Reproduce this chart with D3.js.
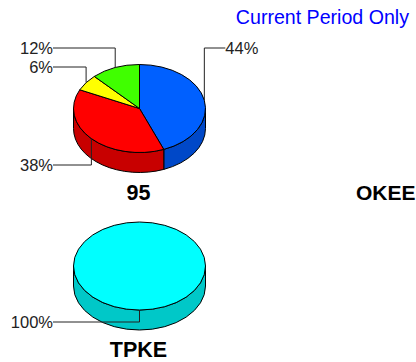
<!DOCTYPE html>
<html>
<head>
<meta charset="utf-8">
<script src="https://d3js.org/d3.v7.min.js"></script>
<style>
body { margin: 0; background: #fff; overflow: hidden; }
svg { display: block; }
text { font-family: "Liberation Sans", Arial, sans-serif; }
</style>
</head>
<body>
<div id="chart"></div>
<script>
// values
var names = ["95", "TPKE"];
var pieValues = [[44, 38, 6, 12], [100]];
var pieLabels = [["44%", "38%", "6%", "12%"], ["100%"]];
var topColors = [["#0060ff", "#ff0000", "#ffff00", "#40ff00"], ["#00ffff"]];
var sideColors = [["#0048c8", "#c80000", "#c8c800", "#30c800"], ["#00c8c8"]];
// y of the horizontal leader run for each label
var leaderY = [[48, 165, 67, 48], [322]];

var width = 416, height = 362;
var rx = 66, ry = 44, depth = 20;
var cx = 139.5;
var centerY = [108.5, 266];
var titleY = [200, 356.5];
var labelRight = 53;

var svg = d3.select("#chart").append("svg")
  .attr("width", width)
  .attr("height", height);

svg.append("text")
  .attr("x", 409)
  .attr("y", 23.5)
  .attr("text-anchor", "end")
  .attr("fill", "#0000ff")
  .style("font-size", "19.6px")
  .text("Current Period Only");

svg.append("text")
  .attr("x", 356)
  .attr("y", 200)
  .style("font-size", "21px")
  .style("font-weight", "bold")
  .text("OKEE");

var pie = d3.pie().sort(null).value(function(d) { return d; });

// point on the rim, angle clockwise from 12 o'clock
function px(a) { return rx * Math.sin(a); }
function py(a) { return -ry * Math.cos(a); }

function topPath(a0, a1) {
  if (a1 - a0 >= 2 * Math.PI - 1e-6) {
    return "M" + (-rx) + ",0A" + rx + "," + ry + " 0 1 1 " + rx + ",0A" + rx + "," + ry + " 0 1 1 " + (-rx) + ",0Z";
  }
  return "M0,0L" + px(a0) + "," + py(a0) +
    "A" + rx + "," + ry + " 0 " + (a1 - a0 > Math.PI ? 1 : 0) + " 1 " + px(a1) + "," + py(a1) + "Z";
}

// only the part of the wall facing the viewer
function sidePath(a0, a1) {
  var s = Math.max(a0, Math.PI / 2), e = Math.min(a1, 3 * Math.PI / 2);
  if (e <= s) return null;
  return "M" + px(s) + "," + py(s) +
    "A" + rx + "," + ry + " 0 0 1 " + px(e) + "," + py(e) +
    "L" + px(e) + "," + (py(e) + depth) +
    "A" + rx + "," + ry + " 0 0 0 " + px(s) + "," + (py(s) + depth) + "Z";
}

names.forEach(function(name, i) {
  var arcs = pie(pieValues[i]);
  var g = svg.append("g").attr("transform", "translate(" + cx + "," + centerY[i] + ")");

  // walls
  g.selectAll(".side")
    .data(arcs)
    .enter().append("path")
      .attr("class", "side")
      .attr("d", function(d) { return sidePath(d.startAngle, d.endAngle); })
      .attr("fill", function(d) { return sideColors[i][d.index]; })
      .attr("stroke", "#000")
      .attr("stroke-width", 1);

  // tops
  g.selectAll(".top")
    .data(arcs)
    .enter().append("path")
      .attr("class", "top")
      .attr("d", function(d) { return topPath(d.startAngle, d.endAngle); })
      .attr("fill", function(d) { return topColors[i][d.index]; })
      .attr("stroke", "#000")
      .attr("stroke-width", 1);

  // leaders and labels
  arcs.forEach(function(d) {
    var mid = (d.startAngle + d.endAngle) / 2;
    var x0 = px(mid), y0 = py(mid);
    var ly = leaderY[i][d.index] - centerY[i];
    var onRight = x0 > 0;
    var x1 = onRight ? x0 + 21 : labelRight - cx;
    g.append("path")
      .attr("d", "M" + x0 + "," + y0 + "L" + x0 + "," + ly + "L" + x1 + "," + ly)
      .attr("fill", "none")
      .attr("stroke", "#222")
      .attr("stroke-width", 1);
    g.append("text")
      .attr("x", x1)
      .attr("y", ly + 6)
      .attr("text-anchor", onRight ? "start" : "end")
      .attr("fill", "#222")
      .style("font-size", "16.5px")
      .text(pieLabels[i][d.index]);
  });

  svg.append("text")
    .attr("x", cx - 1)
    .attr("y", titleY[i])
    .attr("text-anchor", "middle")
    .style("font-size", "21.5px")
    .style("font-weight", "bold")
    .text(name);
});
</script>
</body>
</html>
